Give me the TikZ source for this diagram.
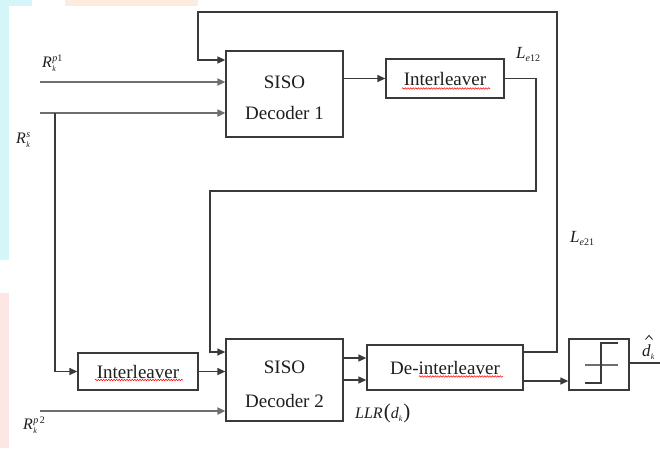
\documentclass[tikz,border=0pt]{standalone}
\usepackage{fontspec}
\setmainfont{Liberation Serif}
\usetikzlibrary{arrows.meta,decorations.pathmorphing}
\definecolor{ln}{HTML}{3A3A3A}
\definecolor{inln}{HTML}{6E6E6E}
\definecolor{txt}{HTML}{1E1E1E}
\definecolor{bgcyan}{HTML}{D4F6F8}
\definecolor{bgpink}{HTML}{FCE6E6}
\definecolor{bgorange}{HTML}{FDEBDD}
\newcommand{\lblR}[3]{\fontsize{16}{16}\selectfont\textit{R}\kern0.3pt\makebox[0pt][l]{\raisebox{-4pt}{\fontsize{8}{8}\selectfont\textit{#1}}}\raisebox{6pt}{\fontsize{10}{10}\selectfont #2}#3}
\begin{document}
\begin{tikzpicture}[x=1pt,y=-1pt,
  every node/.style={text=txt},
  boxnode/.style={draw=ln, line width=1.3pt, inner sep=0pt, fill=white},
  boxtext/.style={font=\fontsize{19}{31}\selectfont, align=center, inner sep=0pt},
  lin/.style={draw=ln, line width=1.3pt},
  arr/.style={draw=ln, line width=1.3pt, -{Triangle[length=8pt,width=7pt]}},
  inarr/.style={draw=inln, line width=1.9pt, -{Triangle[length=8pt,width=7pt]}},
  squig/.style={draw=red, line width=0.5pt, decorate, decoration={snake, amplitude=0.8pt, segment length=2.6pt}}]
\useasboundingbox (0,0) rectangle (660,448);
\fill[white] (0,0) rectangle (660,448);
% background artifacts
\fill[bgcyan] (0,0) rectangle (9,260);
\fill[bgcyan] (0,0) rectangle (32,6);
\fill[bgpink] (0,293) rectangle (9,448);
\fill[bgorange] (65,0) rectangle (198,6);

% boxes
\node[boxnode, minimum width=117pt, minimum height=86pt] (dec1) at (284.5,94) {};
\node[boxtext] (dec1t) at (284.5,97.5) {SISO\\Decoder 1};
\node[boxnode, minimum width=118pt, minimum height=39pt, font=\fontsize{19}{19}\selectfont] (il1) at (445,78.5) {Interleaver};
\node[boxnode, minimum width=117pt, minimum height=82pt] (dec2) at (284.5,380) {};
\node[boxtext, font=\fontsize{19}{34}\selectfont] (dec2t) at (284.5,384) {SISO\\Decoder 2};
\node[boxnode, minimum width=120pt, minimum height=37pt, font=\fontsize{19}{19}\selectfont] (il2) at (138,371.5) {Interleaver};
\node[boxnode, minimum width=156pt, minimum height=45pt, font=\fontsize{19}{19}\selectfont] (deil) at (445,367.5) {De-interleaver};
\node[boxnode, minimum width=60pt, minimum height=51pt] (hd) at (599,364.5) {};

% spell-check squiggles
\draw[squig] (402,88.5) -- (490,88.5);
\draw[squig] (95,380) -- (183,380);
\draw[squig] (419,376.5) -- (503,376.5);

% hard decision symbol
\draw[draw=inln, line width=1.3pt] (585,365) -- (618,365);
\draw[draw=ln, line width=1.3pt] (618,343) -- (601,343) -- (601,383) -- (585,383);

% coordinates
\coordinate (rp1) at (40,82);
\coordinate (rs) at (40,113);
\coordinate (rsb) at (55,113);
\coordinate (rp2) at (40,411);
\coordinate (fbR) at (557,12);
\coordinate (fbL) at (198,12);
\coordinate (c1) at (536,191);
\coordinate (c2) at (210,191);
\coordinate (d1) at ([yshift=9.5pt]deil.west);
\coordinate (d2) at ([yshift=-12.5pt]deil.west);
\coordinate (d3) at ([yshift=-13.5pt]deil.east);
\coordinate (d4) at ([yshift=15.5pt]deil.east);
\coordinate (fb1) at ([yshift=34pt]dec1.west);
\coordinate (fb2) at ([yshift=28pt]dec2.west);
\coordinate (out) at (660,363);

% connectors
\draw[inarr] (rp1) -- (rp1 -| dec1.west);
\draw[inarr] (rs) -- (rs -| dec1.west);
\draw[arr] (rsb) |- (il2.west);
\draw[arr] (d4) -| (fbR) -- (fbL) |- (fb1);
\draw[arr] (dec1.east |- il1.west) -- (il1.west);
\draw[arr] (il1.east) -| (c1) -- (c2) |- (fb2);
\draw[arr] (il2.east) -- (il2.east -| dec2.west);
\draw[inarr] (rp2) -- (rp2 -| dec2.west);
\draw[arr] (d1 -| dec2.east) -- (d1);
\draw[arr] (d2 -| dec2.east) -- (d2);
\draw[arr] (d3) -- (d3 -| hd.west);
\draw[lin] (hd.east |- out) -- (out);

% labels
\node[anchor=west, inner sep=0pt] (lrp1) at (42,63) {\lblR{k}{\textit{p}1}{}};
\node[anchor=west, inner sep=0pt] (lrs) at (16,140) {\lblR{k}{\textit{s}}{}};
\node[anchor=west, inner sep=0pt] (lrp2) at (23,425) {\lblR{k}{\textit{p}\,2}{}};
\node[anchor=west, inner sep=0pt] (le12) at (516,54) {\fontsize{17}{17}\selectfont\textit{L}\raisebox{-3pt}{\fontsize{10}{10}\selectfont\textit{e}12}};
\node[anchor=west, inner sep=0pt] (le21) at (570,238) {\fontsize{17}{17}\selectfont\textit{L}\raisebox{-3pt}{\fontsize{10}{10}\selectfont\textit{e}21}};
\node[anchor=west, inner sep=0pt] (llr) at (355,413) {\fontsize{16}{16}\selectfont\textit{LLR}\kern1pt{\fontsize{21}{21}\selectfont(}\textit{d}\raisebox{-3pt}{\fontsize{8}{8}\selectfont\textit{k}}\kern1pt{\fontsize{21}{21}\selectfont)}};
\node[anchor=west, inner sep=0pt] (dk) at (642,352) {\fontsize{17}{17}\selectfont\textit{d}\raisebox{-3pt}{\fontsize{8}{8}\selectfont\textit{k}}};
\draw[draw=txt, line width=0.8pt] (645.5,339.5) -- (649,335.5) -- (652.5,339.5);
\end{tikzpicture}
\end{document}
